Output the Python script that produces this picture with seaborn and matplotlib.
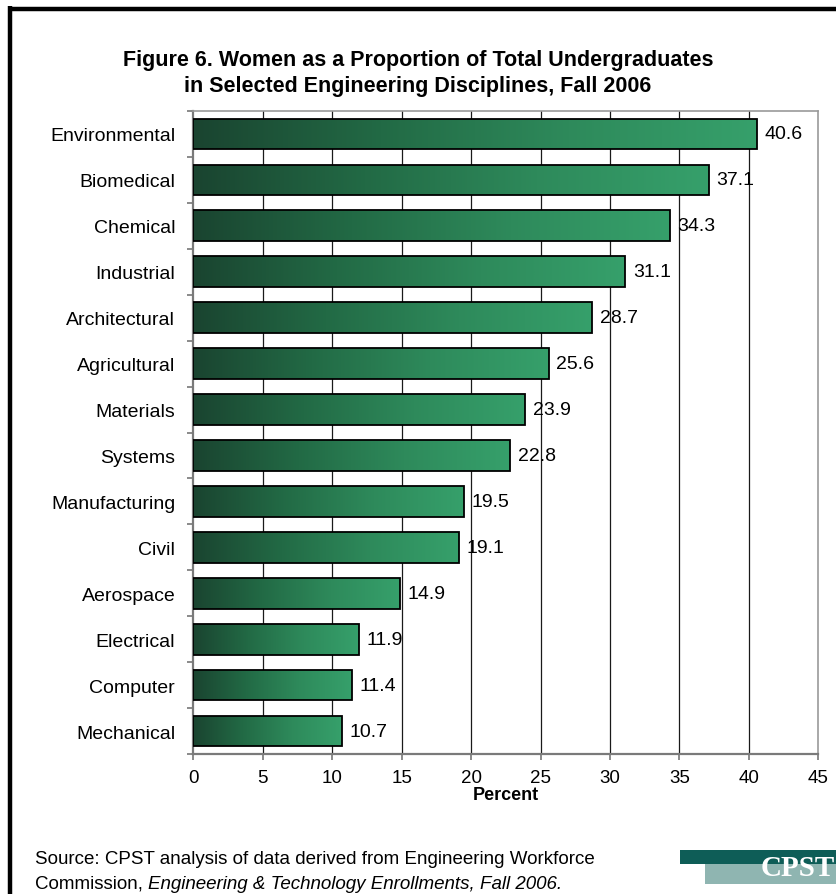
import numpy as np
import matplotlib
matplotlib.use("Agg")
import matplotlib.pyplot as plt
from matplotlib.colors import LinearSegmentedColormap
from matplotlib.lines import Line2D
from matplotlib.patches import Rectangle
import seaborn as sns
import pandas as pd

categories = ["Environmental", "Biomedical", "Chemical", "Industrial", "Architectural",
              "Agricultural", "Materials", "Systems", "Manufacturing", "Civil",
              "Aerospace", "Electrical", "Computer", "Mechanical"]
values = [40.6, 37.1, 34.3, 31.1, 28.7, 25.6, 23.9, 22.8, 19.5, 19.1, 14.9, 11.9, 11.4, 10.7]
x_ticks = [0, 5, 10, 15, 20, 25, 30, 35, 40, 45]

df = pd.DataFrame({"Discipline": categories, "Percent": values})

sns.set_theme(style="white")
plt.rcParams['font.family'] = ['Liberation Sans', 'DejaVu Sans']
plt.rcParams['text.color'] = 'black'
plt.rcParams['axes.labelcolor'] = 'black'

W, H = 836, 895
fig = plt.figure(figsize=(W / 100, H / 100), dpi=100)
ax = fig.add_axes([193.3 / W, 1 - 755 / H, (818.3 - 193.3) / W, (755 - 112) / H])

sns.barplot(data=df, x="Percent", y="Discipline", orient="h", ax=ax,
            width=0.67, color="#2a7a50", edgecolor="black", linewidth=1.3,
            saturation=1, zorder=3)

cmap = LinearSegmentedColormap.from_list("grn", ["#1a4430", "#226a45", "#2e8a5b", "#36a06b"])
grad = np.linspace(0, 1, 256).reshape(1, -1)
for p in ax.patches:
    x0, y0 = p.get_x(), p.get_y()
    w, h = p.get_width(), p.get_height()
    im = ax.imshow(grad, cmap=cmap, aspect="auto", extent=[x0, x0 + w, y0 + h, y0],
                   zorder=3.5, interpolation="bicubic")
    im.set_clip_path(p)
    p.set_facecolor("none")
    p.set_zorder(4)

ax.set_xlim(0, 45)
ax.set_ylim(len(categories) - 0.5, -0.5)
ax.set_xticks(x_ticks)
ax.set_xticklabels([str(t) for t in x_ticks], fontsize=13.5)
ax.set_yticks(range(len(categories)))
ax.set_yticklabels(categories, fontsize=14)
ax.set_yticks(np.arange(-0.5, len(categories), 1.0), minor=True)
ax.tick_params(axis="y", which="major", length=0, pad=13, colors="black")
ax.tick_params(axis="y", which="minor", length=4, width=1.2, color="#777777", direction="out", left=True)
ax.tick_params(axis="x", which="major", length=4, width=1.2, color="#777777", direction="out",
               bottom=True, pad=7, labelcolor="black")

for xv in x_ticks[1:-1]:
    ax.axvline(xv, color="#1a1a1a", lw=0.9, zorder=1)

for side in ["left", "bottom"]:
    ax.spines[side].set_color("#7a7a7a")
    ax.spines[side].set_linewidth(1.6)
for side in ["top", "right"]:
    ax.spines[side].set_color("#9a9a9a")
    ax.spines[side].set_linewidth(1.2)
    ax.spines[side].set_visible(True)

ax.set_ylabel("")
ax.set_xlabel("Percent", fontsize=13, fontweight="bold", labelpad=0)

for i, v in enumerate(values):
    ax.text(v + 0.55, i, f"{v:.1f}", va="center", ha="left", fontsize=14, zorder=6)

fig.text(0.5, 1 - 66 / H, "Figure 6. Women as a Proportion of Total Undergraduates",
         ha="center", va="baseline", fontsize=15.5, fontweight="bold")
fig.text(0.5, 1 - 92 / H, "in Selected Engineering Disciplines, Fall 2006",
         ha="center", va="baseline", fontsize=15.5, fontweight="bold")

fig.text(35 / W, 1 - 864 / H, "Source: CPST analysis of data derived from Engineering Workforce",
         ha="left", va="baseline", fontsize=13.5)
t1 = fig.text(35 / W, 1 - 889 / H, "Commission, ", ha="left", va="baseline", fontsize=13.5)
fig.canvas.draw()
bb = t1.get_window_extent()
fig.text(bb.x1 / W, 1 - 889 / H, "Engineering & Technology Enrollments, Fall 2006.",
         ha="left", va="baseline", fontsize=13.5, style="italic")

# frame
fig.add_artist(Line2D([10 / W, 10 / W], [0, 1 - 7 / H], color="black", lw=3.2,
                      transform=fig.transFigure, solid_capstyle="butt"))
fig.add_artist(Line2D([8 / W, 1], [1 - 9.5 / H, 1 - 9.5 / H], color="black", lw=3.2,
                      transform=fig.transFigure, solid_capstyle="butt"))

# logo
fig.add_artist(Rectangle((680 / W, 1 - 865 / H), (W - 680) / W, 14 / H,
                         transform=fig.transFigure, color="#0e5d57", lw=0))
fig.add_artist(Rectangle((705 / W, 1 - 885 / H), (W - 705) / W, 20 / H,
                         transform=fig.transFigure, color="#8fb5b1", lw=0))
fig.text(834.5 / W, 1 - 876 / H, "CPST", ha="right", va="baseline", color="white",
         fontsize=21, fontweight="bold", family=["Liberation Serif", "DejaVu Serif"])

fig.savefig("out.png", dpi=100, facecolor="white")
